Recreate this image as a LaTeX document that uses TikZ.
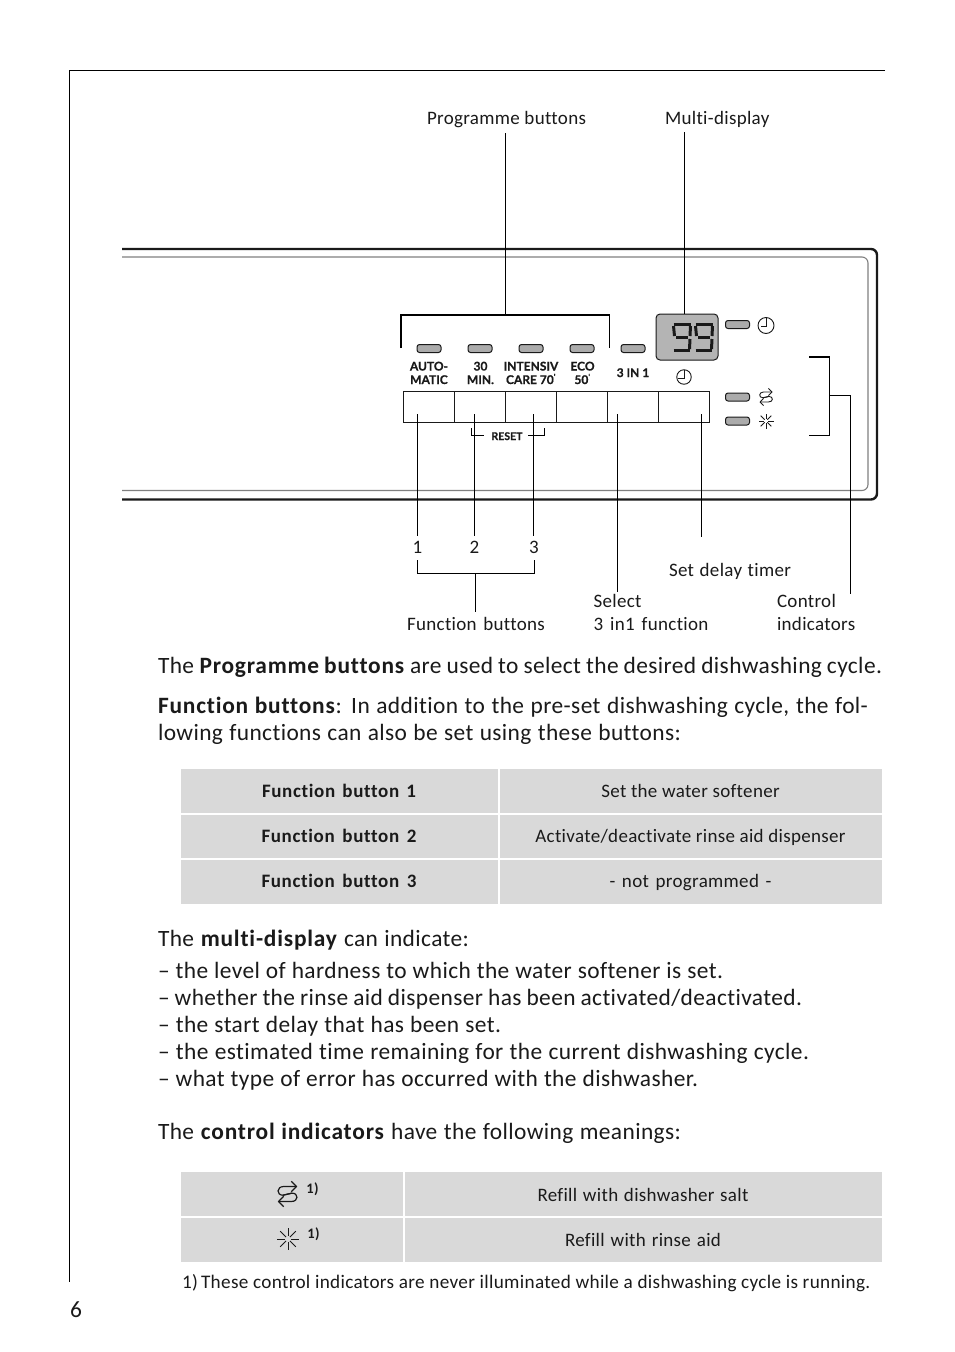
\documentclass[tikz,border=0pt]{standalone}
\usepackage{fontspec}
\setmainfont{Carlito}[Ligatures=NoCommon,LetterSpace=1.7,BoldFeatures={LetterSpace=3.4}]
\newfontfamily\panelfont{Lato}[BoldFeatures={FakeBold=0.6}]
\usetikzlibrary{arrows.meta}
\definecolor{tabgray}{HTML}{D9D9D9}
\definecolor{ledgray}{HTML}{ABABAB}
\definecolor{dispgray}{HTML}{B4B4B4}
\definecolor{inkk}{HTML}{1A1A1A}
\newcommand\bodysize{\fontsize{23.4}{27}\selectfont}
\newcommand\capsize{\fontsize{19}{23}\selectfont}
\newcommand\tabsize{\fontsize{19}{23}\selectfont}
\newcommand\notesize{\fontsize{19.2}{22}\selectfont}
% set a line to a given width by adjusting its word spaces
\newcommand\fitline[2]{\spaceskip=\fontdimen2\font plus 1fil minus 1fil\hbox to #1pt{#2}}
\tikzset{
  x=1pt,y=-1pt,
  every node/.style={inner sep=0pt,outer sep=0pt,text=inkk},
  bodytext/.style={anchor=base west,font=\bodysize},
  captext/.style={anchor=base west,font=\capsize},
  capmid/.style={anchor=base,font=\capsize},
  tabtext/.style={anchor=base,font=\tabsize},
  tabbold/.style={anchor=base,font=\tabsize\bfseries},
  panellabel/.style={anchor=base,align=center,font=\panelfont\fontsize{12}{13.5}\selectfont\bfseries},
  supmark/.style={anchor=base,font=\fontsize{14.5}{15}\selectfont\bfseries},
  leader/.style={draw=black,line width=1pt},
  heavyleader/.style={draw=black,line width=1.5pt},
  cell/.style={fill=tabgray,draw=none},
  led/.style={draw=inkk,line width=1pt,fill=ledgray,rounded corners=2.5pt,minimum width=24pt,minimum height=8pt},
  panelbtn/.style={draw=inkk,line width=1pt,fill=white,minimum width=51pt,minimum height=31pt},
  seg/.style={draw=inkk,line width=3pt,line join=miter},
  ico/.style={draw=inkk,line width=.9pt},
  icoh/.style={draw=inkk,line width=1.2pt},
}
\newcommand\clockicon[4]{\node[circle,draw=inkk,line width=.9pt,minimum size=#4pt] (#1) at (#2,#3) {};}
\newcommand\staricon[3]{%
  \foreach \a in {0,90,180,270}{\draw[ico] (#1,#2) ++(\a:.28*#3) -- ++(\a:.72*#3);}
  \foreach \a in {45,135,225,315}{\draw[ico] (#1,#2) ++(\a:.25*#3) -- ++(\a:.75*#3);}
}
% #4 line style; base size 13 x 14
\newcommand\swapicon[4]{%
  \begin{scope}[shift={(#1,#2)},scale=#3]
    \draw[#4,-{Straight Barb[length=3.4pt,width=7pt,scale=#3]}] (3,-0.6) -- (-3,0.8) .. controls (-7.5,0.8) and (-7.5,-5) .. (-2.5,-5) -- (6.5,-5);
    \draw[#4,-{Straight Barb[length=3.4pt,width=7pt,scale=#3]}] (-3,0.8) -- (3,-0.6) .. controls (7.5,-0.6) and (7.5,5) .. (2.5,5) -- (-6.5,5);
  \end{scope}
}
\newcommand\nine[2]{%
  \draw[seg] (#1+1,#2+1.5) -- (#1+18,#2+1.5);
  \draw[seg] (#1+1,#2+3) -- (#1+2,#2+13);
  \draw[seg] (#1+3.5,#2+14.5) -- (#1+15,#2+14.5);
  \draw[seg] (#1+18,#2+3) -- (#1+17.5,#2+13);
  \draw[seg] (#1+17.5,#2+16) -- (#1+17,#2+26);
  \draw[seg] (#1+1,#2+27.5) -- (#1+17,#2+27.5);
}
\begin{document}
\begin{tikzpicture}
\useasboundingbox (0,0) rectangle (954,1352);
\fill[white] (0,0) rectangle (954,1352);
\coordinate (pgA) at (885,70.5);
\coordinate (pgB) at (69.5,70.5);
\coordinate (pgC) at (69.5,1282);
\draw[leader] (pgA) -- (pgB) -- (pgC);
\draw[draw=inkk,line width=2.4pt,rounded corners=6pt] (122,249) -- (877,249) -- (877,499.5) -- (122,499.5);
\draw[draw=gray,line width=1.1pt,rounded corners=6pt] (122,257) -- (868,257) -- (868,490.5) -- (122,490.5);
\node[draw=inkk,line width=1pt,fill=dispgray,rounded corners=4pt,minimum width=62pt,minimum height=46pt] (display) at (687,337) {};
\nine{672.5}{323}
\nine{694.5}{323}
\node[led] (led1) at (429,348.5) {};
\node[led] (led2) at (480,348.5) {};
\node[led] (led3) at (531,348.5) {};
\node[led] (led4) at (582,348.5) {};
\node[led] (led5) at (633,348.5) {};
\node[led] (led6) at (737.5,324.5) {};
\node[led] (led7) at (737.5,397) {};
\node[led] (led8) at (737.5,421) {};
\node[panelbtn] (b1) at (428.5,406.5) {};
\node[panelbtn] (b2) at (479.5,406.5) {};
\node[panelbtn] (b3) at (530.5,406.5) {};
\node[panelbtn] (b4) at (581.5,406.5) {};
\node[panelbtn] (b5) at (632.5,406.5) {};
\node[panelbtn] (b6) at (683.5,406.5) {};
\node[panellabel] (l1) at (429,384) {AUTO-\\MATIC};
\node[panellabel] (l2) at (480.5,384) {30\\MIN.};
\node[panellabel] (l3) at (531,384) {INTENSIV\\CARE 70\textsuperscript{'}};
\node[panellabel] (l4) at (582.5,384) {ECO\\50\textsuperscript{'}};
\node[panellabel] (l5) at (633,377) {3 IN 1};
\node[panellabel,font=\panelfont\fontsize{10.6}{13}\selectfont\bfseries] (reset) at (507,440) {RESET};
\clockicon{clk}{766}{325.5}{16}
\draw[ico] (766,318) -- (766,326) -- (760.5,326);
\clockicon{dly}{684}{377}{14.5}
\draw[ico] (684,369.5) -- (684,378.5) -- (678,378.5);
\swapicon{766}{397}{1}{ico}
\staricon{766}{421}{7.5}
\coordinate (pbL) at (401,348);
\coordinate (pbLt) at (401,315);
\coordinate (pbRt) at (609.5,315);
\coordinate (pbR) at (609.5,348);
\draw[heavyleader] (pbL) -- (pbLt) -- (pbRt);
\draw[leader] (pbRt) -- (pbR);
\node[captext] (progbtn) at (427,124) {Programme buttons};
\node[captext] (multi) at (665,124) {Multi-display};
\coordinate (pbTop) at (505.5,133);
\coordinate (pbMid) at (505.5,315);
\coordinate (mdTop) at (684.5,132);
\draw[leader] (pbTop) -- (pbMid);
\draw[leader] (mdTop) -- (display.north -| mdTop);
\coordinate (rl) at (471.5,428);
\coordinate (rr) at (544,428);
\draw[leader] (rl) -- (471.5,435.5) -- (484,435.5);
\draw[leader] (rr) -- (544,435.5) -- (528,435.5);
\coordinate (f1) at (417.5,414);
\coordinate (f2) at (474.5,414);
\coordinate (f3) at (533,414);
\coordinate (f5) at (617.5,414);
\coordinate (f6) at (701.5,414);
\coordinate (f1e) at (417.5,536);
\coordinate (f2e) at (474.5,536);
\coordinate (f3e) at (533,536);
\coordinate (f5e) at (617.5,592);
\coordinate (f6e) at (701.5,537);
\draw[leader] (f1) -- (f1e);
\draw[leader] (f2) -- (f2e);
\draw[leader] (f3) -- (f3e);
\draw[leader] (f5) -- (f5e);
\draw[leader] (f6) -- (f6e);
\node[capmid] (n1) at (417.5,553) {1};
\node[capmid] (n2) at (474.5,553) {2};
\node[capmid] (n3) at (534,553) {3};
\coordinate (fbL) at (417.5,560);
\coordinate (fbR) at (534.5,560);
\draw[leader] (fbL) -- (417.5,573) -- (534.5,573) -- (fbR);
\coordinate (fbM) at (475.5,573);
\coordinate (fbE) at (475.5,612);
\draw[leader] (fbM) -- (fbE);
\node[captext] (delay) at (669,576) {\fitline{122}{Set delay timer}};
\node[captext] at (593.5,607) {Select};
\node[captext] at (593.5,630) {\fitline{115}{3 in1 function}};
\node[captext] at (777,607) {Control};
\node[captext] at (777,630) {indicators};
\node[captext] (fbtxt) at (407,630) {\fitline{138}{Function buttons}};
\coordinate (cT) at (809,357);
\coordinate (cB) at (809,435);
\draw[heavyleader] (cT) -- (829.5,357);
\draw[leader] (829.5,357) -- (829.5,435) -- (cB);
\coordinate (cM) at (829.5,395);
\coordinate (cE) at (850,594);
\draw[leader] (cM) -- (850,395) -- (cE);
\node[bodytext] at (158,673) {\fitline{724}{The \textbf{Programme buttons} are used to select the desired dishwashing cycle.}};
\node[bodytext] at (158,713) {\fitline{710}{\textbf{Function buttons}: In addition to the pre-set dishwashing cycle, the fol-}};
\node[bodytext] at (158,740) {\fitline{523}{lowing functions can also be set using these buttons:}};
\fill[cell] (181,769) rectangle (498,813);
\fill[cell] (500,769) rectangle (882,813);
\fill[cell] (181,815) rectangle (498,858);
\fill[cell] (500,815) rectangle (882,858);
\fill[cell] (181,860) rectangle (498,904);
\fill[cell] (500,860) rectangle (882,904);
\node[tabbold] at (339,797) {\fitline{154}{Function button 1}};
\node[tabtext] at (690.5,797) {Set the water softener};
\node[tabbold] at (339,842) {\fitline{155}{Function button 2}};
\node[tabtext] at (690.5,842) {Activate/deactivate rinse aid dispenser};
\node[tabbold] at (339,887) {\fitline{155}{Function button 3}};
\node[tabtext] at (690.5,887) {\fitline{162}{- not programmed -}};
\node[bodytext] at (158,946) {\fitline{311}{The \textbf{multi-display} can indicate:}};
\node[bodytext] at (158,978) {\fitline{565}{– the level of hardness to which the water softener is set.}};
\node[bodytext] at (158,1005) {\fitline{644}{– whether the rinse aid dispenser has been activated/deactivated.}};
\node[bodytext] at (158,1032) {\fitline{343}{– the start delay that has been set.}};
\node[bodytext] at (158,1059) {\fitline{651}{– the estimated time remaining for the current dishwashing cycle.}};
\node[bodytext] at (158,1086) {\fitline{540}{– what type of error has occurred with the dishwasher.}};
\node[bodytext] at (158,1139) {\fitline{523}{The \textbf{control indicators} have the following meanings:}};
\fill[cell] (181,1172) rectangle (403,1216);
\fill[cell] (405,1172) rectangle (882,1216);
\fill[cell] (181,1218) rectangle (403,1262);
\fill[cell] (405,1218) rectangle (882,1262);
\swapicon{287.5}{1194}{1.5}{icoh}
\staricon{288}{1239}{11}
\node[supmark] at (312.5,1193) {1)};
\node[supmark] at (313.5,1238) {1)};
\node[tabtext] at (643,1201) {\fitline{211}{Refill with dishwasher salt}};
\node[tabtext] at (643,1246) {\fitline{156}{Refill with rinse aid}};
\node[anchor=base west,font=\notesize] at (182,1288) {1)\,These control indicators are never illuminated while a dishwashing cycle is running.};
\node[bodytext] at (70,1317) {6};
\end{tikzpicture}
\end{document}
